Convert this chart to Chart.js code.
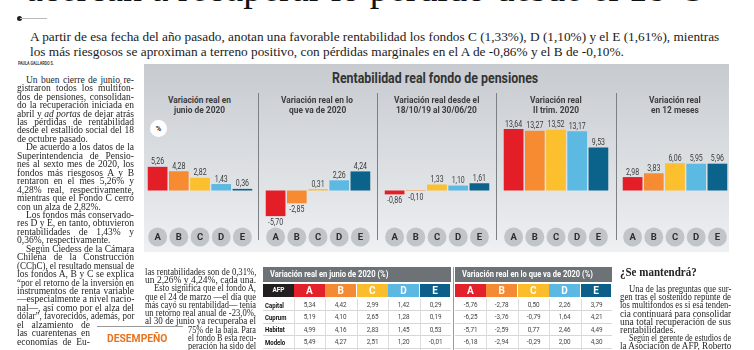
<!DOCTYPE html>
<html>
<head>
<meta charset="utf-8">
<script src="https://cdn.jsdelivr.net/npm/chart.js@4.4.1/dist/chart.umd.min.js"></script>
<style>
  body { margin: 0; width: 754px; height: 350px; overflow: hidden; background: #fff; position: relative; font-family: "Liberation Serif", serif; color: #222; }
  .abs { position: absolute; }
  .t { position: absolute; white-space: nowrap; transform-origin: 0 0; }
  .ln { position: absolute; white-space: nowrap; text-align: justify; text-align-last: justify; transform-origin: 0 0; color: #1e1e1e; }
  .ln.end { text-align-last: left; }
  #headline { left: 26px; top: -31px; font-size: 38px; line-height: 38px; white-space: nowrap; color: #111; }
  #panel { left: 144px; top: 64px; width: 585px; height: 188px; background: linear-gradient(#c7cbd0, #eef0f2); }
  .divider { position: absolute; top: 93px; width: 1px; height: 147px; background: #7d8186; }
  canvas { position: absolute; }
  .cell { position: absolute; text-align: center; box-sizing: border-box; font-family: Roboto, sans-serif; }
</style>
</head>
<body>
<div id="headline" class="abs">acercan a recuperar lo perdido desde el 18-O</div>
<div class="abs" style="left:17px;top:16px;width:5px;height:5px;border-radius:50%;background:#222"></div>
<div class="abs" style="left:20px;top:18px;width:27px;height:1px;background:#bbb"></div>

<div id="panel" class="abs"></div>
<div class="divider" style="left:258px"></div>
<div class="divider" style="left:377px"></div>
<div class="divider" style="left:496px"></div>
<div class="divider" style="left:616px"></div>
<div class="abs" style="left:150px;top:120px;width:17px;height:17px;border-radius:50%;background:#fff;text-align:center;font-family:Roboto,sans-serif;font-size:7.5px;line-height:17px;font-weight:bold;color:#333">%</div>
<div id="charts"></div>
<div id="text"></div>
<div id="tables"></div>

<script>
// datos del gráfico
const fundLabels = ['A', 'B', 'C', 'D', 'E'];
const fundColors = ['#e41e26', '#f68b32', '#fcbf2d', '#5cb9e2', '#0b628b'];
const juneValues = [5.26, 4.28, 2.82, 1.43, 0.36];
const ytdValues = [-5.70, -2.85, 0.31, 2.26, 4.24];
const sinceOctValues = [-0.86, -0.10, 1.33, 1.10, 1.61];
const q2Values = [13.64, 13.27, 13.52, 13.17, 9.53];
const yearValues = [2.98, 3.83, 6.06, 5.95, 5.96];
const panelTitles = [
  ['Variación real en', 'junio de 2020'],
  ['Variación real en lo', 'que va de 2020'],
  ['Variación real desde el', '18/10/19 al 30/06/20'],
  ['Variación real', 'II trim. 2020'],
  ['Variación real', 'en 12 meses'],
];
const panelSeries = [juneValues, ytdValues, sinceOctValues, q2Values, yearValues];

// datos de las tablas
const afpNames = ['Capital', 'Cuprum', 'Habitat', 'Modelo'];
const juneByAfp = [
  [5.34, 4.42, 2.99, 1.42, 0.29],
  [5.19, 4.10, 2.65, 1.28, 0.19],
  [4.99, 4.16, 2.83, 1.45, 0.53],
  [5.49, 4.27, 2.51, 1.20, -0.01],
];
const ytdByAfp = [
  [-5.76, -2.78, 0.50, 2.26, 3.79],
  [-6.25, -3.76, -0.79, 1.64, 4.21],
  [-5.71, -2.59, 0.77, 2.46, 4.49],
  [-6.18, -2.94, -0.29, 2.00, 4.30],
];

const SANS = 'Roboto, "Open Sans", sans-serif';
const fmt = (v) => v.toFixed(2).replace('.', ',');
const gText = document.getElementById('text');

// pone un texto; si hay target, lo comprime horizontalmente a ese ancho
function placeText(pHtml, o) {
  let vDiv = document.createElement('div');
  vDiv.className = 't';
  vDiv.innerHTML = pHtml;
  vDiv.style.fontFamily = o.family || SANS;
  vDiv.style.fontSize = o.size + 'px';
  vDiv.style.lineHeight = (o.lh || o.size * 1.2) + 'px';
  vDiv.style.fontWeight = o.weight || 'normal';
  vDiv.style.color = o.color || '#222';
  vDiv.style.top = o.y - (o.lh || o.size * 1.2) / 2 + 'px';
  (o.parent || gText).appendChild(vDiv);
  const w = vDiv.offsetWidth;
  const s = o.target ? o.target / w : (o.scale || 1);
  vDiv.style.transform = `scaleX(${s})`;
  vDiv.style.left = (o.cx != null ? o.cx - (w * s) / 2 : o.x) + 'px';
  return w * s;
}

// etiquetas de valor y círculos con la letra del fondo
const barLabels = {
  id: 'barLabels',
  afterDatasetsDraw(chart) {
    const ctx = chart.ctx;
    const meta = chart.getDatasetMeta(0);
    const data = chart.data.datasets[0].data;
    ctx.save();
    ctx.textAlign = 'center';
    ctx.textBaseline = 'alphabetic';
    ctx.font = '8.5px ' + SANS;
    ctx.fillStyle = '#3a3a3a';
    meta.data.forEach((bar, i) => {
      const v = data[i];
      ctx.save();
      ctx.translate(bar.x, v >= 0 ? bar.y - 2.5 : bar.y + 9);
      ctx.scale(0.82, 1);
      ctx.fillText(fmt(v), 0, 0);
      ctx.restore();
    });
    const cy = chart.chartArea.bottom + 6;
    chart.data.labels.forEach((lab, i) => {
      const x = chart.scales.x.getPixelForValue(i);
      ctx.beginPath();
      ctx.arc(x, cy, 9.5, 0, Math.PI * 2);
      ctx.fillStyle = '#c1c5ca';
      ctx.fill();
      ctx.fillStyle = '#2e2e2e';
      ctx.font = 'bold 9.5px ' + SANS;
      ctx.textBaseline = 'middle';
      ctx.fillText(lab, x, cy + 0.5);
    });
    ctx.restore();
  },
};

const gPanelLeft = [146.5, 264.5, 383.5, 502.5, 621.5];
const vCharts = document.getElementById('charts');

placeText('Rentabilidad real fondo de pensiones', { cx: 434.5, y: 78, size: 14, weight: 'bold', color: '#333', target: 206 });

// factor común de compresión para los subtítulos
const vMeasure = document.createElement('canvas').getContext('2d');
vMeasure.font = 'bold 9.5px ' + SANS;
const gSubScale = 63 / vMeasure.measureText('Variación real en').width;

panelSeries.forEach((vals, i) => {
  panelTitles[i].forEach((line, k) => {
    placeText(line, { cx: gPanelLeft[i] + 53, y: 100 + k * 10.3, size: 9.5, lh: 10.3, weight: 'bold', color: '#3d3d3d', scale: gSubScale });
  });

  let vCanvas = document.createElement('canvas');
  vCanvas.width = 106;
  vCanvas.height = 136;
  vCanvas.style.left = gPanelLeft[i] + 'px';
  vCanvas.style.top = '114px';
  vCharts.appendChild(vCanvas);

  new Chart(vCanvas.getContext('2d'), {
    type: 'bar',
    data: {
      labels: fundLabels,
      datasets: [{
        data: vals,
        backgroundColor: fundColors,
        borderWidth: 0,
        barPercentage: 0.93,
        categoryPercentage: 1,
      }],
    },
    options: {
      responsive: false,
      animation: false,
      devicePixelRatio: 1,
      layout: { padding: { top: 0, right: 0, bottom: 19, left: 0 } },
      plugins: { legend: { display: false }, tooltip: { enabled: false } },
      scales: {
        x: { display: false },
        y: { display: false, min: -9, max: 17 },
      },
    },
    plugins: [barLabels],
  });
});

// texto de las columnas
// '>' al inicio = sangría, '|' al final = fin de párrafo, '#dx#ancho#' = línea desplazada
function addColumn(pLines, pX, pY, pWidth, pLh, pSize) {
  const vBase = 1;
  pLines.forEach((line, i) => {
    let vTxt = line, vIndent = 0, vEnd = false, vL = pX, vW = pWidth;
    if (vTxt.startsWith('#')) {
      const parts = vTxt.slice(1).split('#');
      vL = pX + Number(parts[0]); vW = Number(parts[1]); vTxt = parts[2];
    }
    if (vTxt.startsWith('>')) { vIndent = 9; vTxt = vTxt.slice(1); }
    if (vTxt.endsWith('|')) { vEnd = true; vTxt = vTxt.slice(0, -1); }
    vW -= vIndent;
    let vDiv = document.createElement('div');
    vDiv.className = 'ln end';
    vDiv.innerHTML = vTxt;
    vDiv.style.fontSize = pSize + 'px';
    vDiv.style.lineHeight = pLh + 'px';
    vDiv.style.top = pY + i * pLh - pLh / 2 + 'px';
    vDiv.style.left = vL + vIndent + 'px';
    gText.appendChild(vDiv);
    const nat = vDiv.offsetWidth;
    let s = vBase;
    if (nat * s > vW) s = vW / nat;
    if (!vEnd) {
      vDiv.className = 'ln';
      vDiv.style.width = vW / s + 'px';
    }
    vDiv.style.transform = `scaleX(${s})`;
  });
}

// entradilla
(function () {
  const vDeck1 = 'A partir de esa fecha del año pasado, anotan una favorable rentabilidad los fondos C (1,33%), D (1,10%) y el E (1,61%), mientras';
  const vDeck2 = 'los más riesgosos se aproximan a terreno positivo, con pérdidas marginales en el A de -0,86% y el B de -0,10%.';
  const vM = document.createElement('canvas').getContext('2d');
  vM.font = '13.5px "Liberation Serif"';
  const s = 690 / vM.measureText(vDeck1).width;
  placeText(vDeck1, { x: 30, y: 37, size: 13.5, family: '"Liberation Serif", serif', color: '#1a1a1a', scale: s });
  placeText(vDeck2, { x: 30, y: 52, size: 13.5, family: '"Liberation Serif", serif', color: '#1a1a1a', scale: s });
  placeText('PAULA GALLARDO S.', { x: 18, y: 63, size: 5.5, weight: 'bold', color: '#444', target: 36 });
})();

addColumn([
  '>Un buen cierre de junio re-',
  'gistraron todos los multifon-',
  'dos de pensiones, consolidan-',
  'do la recuperación iniciada en',
  'abril y <i>ad portas</i> de dejar atrás',
  'las pérdidas de rentabilidad',
  'desde el estallido social del 18',
  'de octubre pasado.|',
  '>De acuerdo a los datos de la',
  'Superintendencia de Pensio-',
  'nes al sexto mes de 2020, los',
  'fondos más riesgosos A y B',
  'rentaron en el mes 5,26% y',
  '4,28% real, respectivamente,',
  'mientras que el Fondo C cerró',
  'con un alza de 2,82%.|',
  '>Los fondos más conservado-',
  'res D y E, en tanto, obtuvieron',
  'rentabilidades de 1,43% y',
  '0,36%, respectivamente.|',
  '>Según Ciedess de la Cámara',
  'Chilena de la Construcción',
  '(CChC), el resultado mensual de',
  'los fondos A, B y C se explica',
  '“por el retorno de la inversión en',
  'instrumentos de renta variable',
  '—especialmente a nivel nacio-',
  'nal—, así como por el alza del',
  'dólar”, favorecidos, además, por',
  '#0#73#el alzamiento de',
  '#0#73#las cuarentenas en',
  '#0#73#economías de Eu-',
], 17, 80, 117, 8.45, 9.5);

addColumn([
  'las rentabilidades son de 0,31%,',
  'un 2,26% y 4,24%, cada una.|',
  '>Esto significa que el fondo A,',
  'que el 24 de marzo —el día que',
  'más cayó su rentabilidad— tenía',
  'un retorno real anual de -23,0%,',
  'al 30 de junio ya recuperaba el',
  '#43#68#75% de la baja. Para',
  '#43#68#el fondo B esta recu-',
  '#43#68#peración ha sido del',
], 145, 272, 111, 8.25, 9.5);

addColumn([
  '>Una de las preguntas que sur-',
  'gen tras el sostenido repunte de',
  'los multifondos es si esa tenden-',
  'cia continuará para consolidar',
  'una total recuperación de sus',
  'rentabilidades.|',
  '>Según el gerente de estudios de',
  'la Asociación de AFP, Roberto',
], 620, 289, 111, 8.2, 9.5);

placeText('¿Se mantendrá?', { x: 620, y: 272, size: 12, weight: 'bold', family: '"Liberation Serif", serif', color: '#222', target: 77 });
gText.insertAdjacentHTML('beforeend', '<div class="abs" style="left:97px;top:326px;width:86px;height:1px;background:#999"></div>');
placeText('DESEMPEÑO', { x: 107, y: 339, size: 11.5, weight: 'bold', color: '#e8731e', target: 60 });

// tablas
const headColors = ['#231f20', '#e3212b', '#f48a34', '#fbbd2c', '#5ab8e2', '#0b5f88'];
function addTable(pTitle, pTitleW, pValues, pX, pWithAfp) {
  const vBox = document.getElementById('tables');
  const vColW = 31.4;
  const vFirst = pWithAfp ? 31 : 0;
  const vW = vFirst + vColW * 5;
  let html = '';
  html += `<div class="abs" style="left:${pX}px;top:267px;width:${vW}px;height:15px;background:#6c7276"></div>`;
  if (pWithAfp) {
    html += `<div class="cell" style="left:${pX}px;top:284px;width:${vFirst}px;height:13px;background:${headColors[0]};color:#fff;font-weight:bold;font-size:6.5px;line-height:13px">AFP</div>`;
  }
  fundLabels.forEach((lab, j) => {
    html += `<div class="cell" style="left:${pX + vFirst + j * vColW}px;top:284px;width:${vColW - 0.6}px;height:13px;background:${headColors[j + 1]};color:#fff;font-weight:bold;font-size:10px;line-height:13px">${lab}</div>`;
  });
  pValues.forEach((row, r) => {
    const top = 299 + r * 12.4;
    html += `<div class="abs" style="left:${pX}px;top:${top + 11.4}px;width:${vW}px;height:1px;background:#d6d6d6"></div>`;
    row.forEach((v, j) => {
      html += `<div class="cell" style="left:${pX + vFirst + j * vColW}px;top:${top}px;width:${vColW}px;font-size:7.5px;line-height:12px;color:#444;transform:scaleX(0.85)">${fmt(v)}</div>`;
    });
  });
  for (let j = 0; j < 5; j++) {
    const x = pX + vFirst + j * vColW;
    if (j > 0 || pWithAfp) html += `<div class="abs" style="left:${x}px;top:299px;width:1px;height:51px;background:#dcdcdc"></div>`;
  }
  vBox.insertAdjacentHTML('beforeend', html);
  placeText(pTitle, { x: pX + 7, y: 274.5, size: 8.5, weight: 'bold', color: '#fff', target: pTitleW, parent: vBox });
  if (pWithAfp) {
    afpNames.forEach((name, r) => {
      placeText(name, { x: pX + 2, y: 305 + r * 12.4, size: 7.5, weight: 'bold', color: '#111', scale: 0.8, parent: vBox });
    });
  }
}
addTable('Variación real en junio de 2020 (%)', 118, juneByAfp, 263, true);
addTable('Variación real en lo que va de 2020 (%)', 131, ytdByAfp, 455, false);
document.getElementById('tables').insertAdjacentHTML('beforeend',
  '<div class="abs" style="left:452.5px;top:267px;width:1px;height:83px;background:#9a9a9a"></div>');
</script>
</body>
</html>
